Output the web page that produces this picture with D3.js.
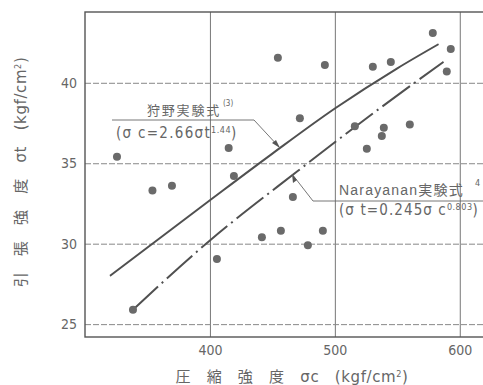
<!DOCTYPE html>
<html>
<head>
<meta charset="utf-8">
<script src="https://cdn.jsdelivr.net/npm/d3@7"></script>
<style>
  html, body { margin: 0; padding: 0; background: #fff; }
  svg { display: block; }
  text { fill: #666; font-family: "Liberation Sans Narrow", "DejaVu Sans Condensed", "Noto Sans CJK JP", sans-serif; }
  .cjk { font-family: "Noto Sans CJK JP", sans-serif; }
</style>
</head>
<body>
<svg id="chart" width="483" height="385"></svg>
<script>
// Measured compressive strength (kgf/cm²) and tensile strength (kgf/cm²)
const compStrength = [325.6, 338.4, 354, 369.6, 405.6, 415, 419.2, 441.6, 454.4, 456.8,
                      466.4, 472, 478.4, 490.4, 492, 516, 525.6, 530.4, 537.6, 539.2,
                      544.8, 560, 578.4, 589.6, 592.8];
const tensStrength = [35.4, 25.9, 33.3, 33.6, 29.05, 35.95, 34.2, 30.4, 41.55, 30.8,
                      32.9, 37.8, 29.9, 30.8, 41.1, 37.3, 35.9, 41.0, 36.7, 37.2,
                      41.3, 37.4, 43.1, 40.7, 42.1];

// 狩野実験式 curve, sampled along its drawn path
const kanoC = [320, 400, 450, 500, 550, 583];
const kanoT = [28.0, 32.7, 35.6, 38.4, 40.9, 42.4];

// Narayanan実験式 curve, sampled along its drawn path
const naraC = [338.4, 400, 470, 534, 587];
const naraT = [25.9, 30.2, 34.5, 38.3, 41.3];

const xTicks = [400, 500, 600];
const yTicks = [25, 30, 35, 40];

const svg = d3.select("#chart");
const pLeft = 85, pTop = 12, pBottom = 337, pRight = 491;

const x = d3.scaleLinear().domain([300, 625]).range([pLeft, pRight]);
const y = d3.scaleLinear().domain([24.2, 44.4]).range([pBottom, pTop]);

// grid lines
const vg = svg.append("g").attr("transform", `translate(0,${pBottom})`)
  .call(d3.axisBottom(x).tickValues(xTicks).tickSize(-(pBottom - pTop)).tickFormat(""));
vg.select(".domain").remove();
vg.selectAll("line").attr("stroke", "#777").attr("stroke-width", 1);

const hg = svg.append("g").attr("transform", `translate(${pLeft},0)`)
  .call(d3.axisLeft(y).tickValues(yTicks).tickSize(-(pRight - pLeft)).tickFormat(""));
hg.select(".domain").remove();
hg.selectAll("line").attr("stroke", "#888").attr("stroke-width", 1).attr("stroke-dasharray", "6,2");

// frame
svg.append("rect").attr("x", pLeft).attr("y", pTop)
  .attr("width", pRight - pLeft).attr("height", pBottom - pTop)
  .attr("fill", "none").attr("stroke", "#555").attr("stroke-width", 1.4);

// tick labels
const xa = svg.append("g").attr("transform", `translate(0,${pBottom})`)
  .call(d3.axisBottom(x).tickValues(xTicks).tickSize(0).tickPadding(8).tickFormat(d3.format("d")));
xa.select(".domain").remove();
xa.selectAll("text").attr("font-size", 14).attr("fill", "#666")
  .attr("font-family", "Liberation Sans Narrow, DejaVu Sans Condensed, sans-serif");

const ya = svg.append("g").attr("transform", `translate(${pLeft},0)`)
  .call(d3.axisLeft(y).tickValues(yTicks).tickSize(0).tickPadding(8).tickFormat(d3.format("d")));
ya.select(".domain").remove();
ya.selectAll("text").attr("font-size", 14).attr("fill", "#666")
  .attr("font-family", "Liberation Sans Narrow, DejaVu Sans Condensed, sans-serif");

// curves
const line = d3.line().x(d => x(d[0])).y(d => y(d[1])).curve(d3.curveMonotoneX);
svg.append("path").datum(d3.zip(kanoC, kanoT)).attr("d", line)
  .attr("fill", "none").attr("stroke", "#505050").attr("stroke-width", 2);
svg.append("path").datum(d3.zip(naraC, naraT)).attr("d", line)
  .attr("fill", "none").attr("stroke", "#505050").attr("stroke-width", 2)
  .attr("stroke-dasharray", "34,5,2,5");

// data points
svg.append("g").selectAll("circle").data(d3.zip(compStrength, tensStrength)).join("circle")
  .attr("cx", d => x(d[0])).attr("cy", d => y(d[1])).attr("r", 4)
  .attr("fill", "#6a6a6a");

// annotation: 狩野実験式
const ann = svg.append("g");
ann.append("path").attr("d", "M112,120 L254,120 L280,148")
  .attr("fill", "none").attr("stroke", "#666").attr("stroke-width", 0.9);
ann.append("path").attr("d", "M280,148 L272,143 L276,140 Z").attr("fill", "#555");
ann.append("text").attr("class", "cjk").attr("x", 147).attr("y", 115)
  .attr("font-size", 13).attr("letter-spacing", 1.8).text("狩野実験式");
ann.append("text").attr("x", 223).attr("y", 106).attr("font-size", 8).text("(3)");
const t1 = ann.append("text").attr("x", 116).attr("y", 138).attr("font-size", 15).attr("letter-spacing", 1.3);
t1.append("tspan").text("(σ c=2.66σt");
t1.append("tspan").attr("dy", -5).attr("font-size", 9).attr("letter-spacing", 0.5).text("1.44");
t1.append("tspan").attr("dy", 5).text(")");

// annotation: Narayanan実験式
ann.append("path").attr("d", "M292,174 L313,201 L491,201")
  .attr("fill", "none").attr("stroke", "#666").attr("stroke-width", 0.9);
ann.append("path").attr("d", "M292,174 L293,183 L297,180 Z").attr("fill", "#555");
const t2 = ann.append("text").attr("x", 339).attr("y", 195).attr("font-size", 14).attr("letter-spacing", 1.2);
t2.append("tspan").attr("font-family", "Liberation Sans, sans-serif").text("Narayanan");
t2.append("tspan").attr("font-family", "Noto Sans CJK JP, sans-serif").text("実験式");
ann.append("text").attr("x", 475).attr("y", 186).attr("font-size", 9).text("4");
const t3 = ann.append("text").attr("x", 339).attr("y", 215).attr("font-size", 15).attr("letter-spacing", 1.1);
t3.append("tspan").text("(σ t=0.245σ c");
t3.append("tspan").attr("dy", -5).attr("font-size", 9).attr("letter-spacing", 0.5).text("0.803");
t3.append("tspan").attr("dy", 5).text(")");

// axis titles
const xt = svg.append("text").attr("x", 292).attr("y", 382).attr("text-anchor", "middle")
  .attr("font-size", 15).attr("letter-spacing", 0.6);
xt.append("tspan").attr("font-family", "Noto Sans CJK JP, sans-serif").text("圧　縮　強　度　");
xt.append("tspan").attr("font-family", "DejaVu Sans, sans-serif").text("σc　(kgf/cm");
xt.append("tspan").attr("dy", -5).attr("font-size", 9).text("2");
xt.append("tspan").attr("dy", 5).attr("font-family", "DejaVu Sans, sans-serif").text(")");

const yt = svg.append("text").attr("transform", "translate(26,172) rotate(-90)")
  .attr("text-anchor", "middle").attr("font-size", 15).attr("letter-spacing", 0.6);
yt.append("tspan").attr("font-family", "Noto Sans CJK JP, sans-serif").text("引　張　強　度　");
yt.append("tspan").attr("font-family", "DejaVu Sans, sans-serif").text("σt　(kgf/cm");
yt.append("tspan").attr("dy", -5).attr("font-size", 9).text("2");
yt.append("tspan").attr("dy", 5).attr("font-family", "DejaVu Sans, sans-serif").text(")");
</script>
</body>
</html>
